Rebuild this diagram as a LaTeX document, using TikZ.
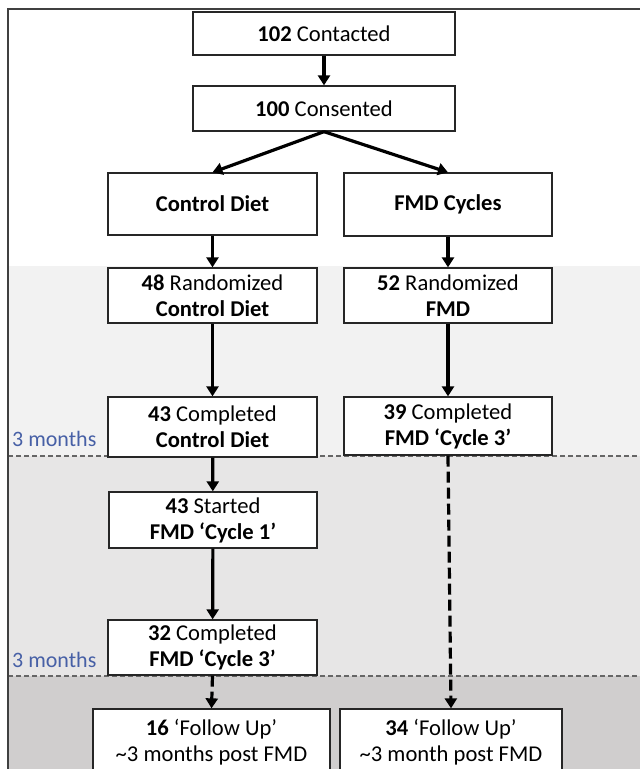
\documentclass[tikz,border=0pt]{standalone}
\usepackage{fontspec}
\setmainfont{Carlito}
\usepackage{xcolor}
\usetikzlibrary{arrows.meta}

\definecolor{faixaA}{HTML}{F2F2F2}
\definecolor{faixaB}{HTML}{E7E6E6}
\definecolor{faixaC}{HTML}{D0CECE}
\definecolor{azulmeses}{HTML}{4760A6}

\begin{document}
\begin{tikzpicture}[x=1pt, y=-1pt,
    caixa/.style={draw=black!85, line width=1.3pt, fill=white, align=center,
      inner sep=0pt, font=\fontsize{22.6}{26}\selectfont},
    seta/.style={line width=3.2pt, -{Triangle[length=10pt,width=12pt]}},
    setatrac/.style={seta, dash pattern=on 11pt off 5pt},
    divisa/.style={draw=black!60, line width=1.2pt, dash pattern=on 5pt off 3pt},
    meses/.style={anchor=base west, inner sep=0pt, text=azulmeses,
      font=\fontsize{22}{26}\selectfont}]
    \useasboundingbox (0,0) rectangle (640,769);
    % Faixas de fundo (periodos do estudo)
    \fill[faixaA] (8,266) rectangle (640,456);
    \fill[faixaB] (8,456) rectangle (640,676);
    \fill[faixaC] (8,676) rectangle (640,790);
    \draw[divisa] (8,456) -- (640,456);
    \draw[divisa] (8,676) -- (640,676);
    % Moldura externa
    \draw[line width=1.3pt, black!75] (8,790) -- (8,9) -- (660,9);
    % Rotulos de tempo
    \node[meses] (mesesA) at (12,446) {3 months};
    \node[meses] (mesesB) at (12,667) {3 months};
    % Caixas do fluxo
    \node[caixa, minimum width=262pt, minimum height=43pt] (contato) at (324,33.5) {\textbf{102} Contacted};
    \node[caixa, minimum width=262pt, minimum height=45pt] (consent) at (324,108.5) {\textbf{100} Consented};
    \node[caixa, minimum width=209pt, minimum height=62pt] (controle) at (212.5,204) {\textbf{Control Diet}};
    \node[caixa, minimum width=208pt, minimum height=63pt] (ciclos) at (448,204.5) {\textbf{FMD Cycles}};
    \node[caixa, minimum width=209pt, minimum height=55pt] (randC) at (212.5,295.5) {\textbf{48} Randomized\\\textbf{Control Diet}};
    \node[caixa, minimum width=208pt, minimum height=55pt] (randF) at (448,295.5) {\textbf{52} Randomized\\\textbf{FMD}};
    \node[caixa, minimum width=209pt, minimum height=60pt] (compC) at (212.5,427) {\textbf{43} Completed\\\textbf{Control Diet}};
    \node[caixa, minimum width=208pt, minimum height=58pt] (compF) at (448,426) {\textbf{39} Completed\\\textbf{FMD ‘Cycle 3’}};
    \node[caixa, minimum width=208pt, minimum height=56pt] (inicioC) at (213,520) {\textbf{43} Started\\\textbf{FMD ‘Cycle 1’}};
    \node[caixa, minimum width=209pt, minimum height=55pt] (ciclo3C) at (212.5,647.5) {\textbf{32} Completed\\\textbf{FMD ‘Cycle 3’}};
    \node[caixa, minimum width=237pt, minimum height=67pt] (seguiC) at (211.5,742.5) {\textbf{16} ‘Follow Up’\\\textasciitilde3 months post FMD};
    \node[caixa, minimum width=222pt, minimum height=67pt] (seguiF) at (451,742.5) {\textbf{34} ‘Follow Up’\\\textasciitilde3 month post FMD};
    % Setas
    \draw[seta] (contato) -- (consent);
    \draw[seta] (consent.south) -- (controle.north);
    \draw[seta] (consent.south) -- (ciclos.north);
    \draw[seta] (controle) -- (randC);
    \draw[seta] (ciclos) -- (randF);
    \draw[seta] (randC) -- (compC);
    \draw[seta] (randF) -- (compF);
    \draw[seta] (compC) -- (inicioC);
    \draw[seta] (inicioC) -- (ciclo3C);
    \draw[setatrac] (ciclo3C.south) -- (seguiC.north);
    \draw[setatrac] (compF.south) -- (seguiF.north);
\end{tikzpicture}
\end{document}
